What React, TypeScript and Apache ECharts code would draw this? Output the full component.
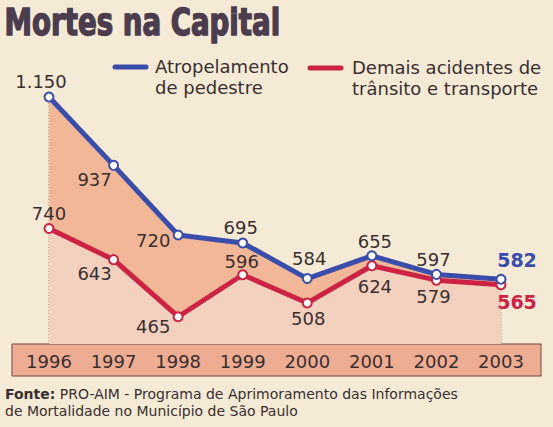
import React, { useEffect, useRef } from "react";
import * as echarts from "echarts";

const years = ["1996", "1997", "1998", "1999", "2000", "2001", "2002", "2003"];
const pedestre = [1150, 937, 720, 695, 584, 655, 597, 582];
const demais = [740, 643, 465, 596, 508, 624, 579, 565];

// label placement (text centre relative to point, px)
const pedestreOffsets = [[-8, -16], [-19, 14], [-25, 6], [-2, -15], [2, -20], [3, -14], [-3, -15], [16, -19]];
const demaisOffsets = [[0, -15], [-19, 14], [-25, 10], [-1, -13], [1, 16], [3, 21], [-3, 16], [16, 17]];

const Y_MIN = 380;
const Y_MAX = 1200;

const BLUE = "#3b4dab";
const RED = "#cc2244";
const TEXT = "#3a2f30";
const FONT = "DejaVu Sans";

function fmt(v: number): string {
  const s = String(v);
  return s.length > 3 ? s.slice(0, s.length - 3) + "." + s.slice(-3) : s;
}

function buildData(values: number[], offsets: number[][], color: string) {
  return values.map((v, i) => {
    const last = i === values.length - 1;
    return {
      value: v,
      label: {
        show: true,
        position: "inside",
        offset: offsets[i],
        align: "center",
        verticalAlign: "middle",
        formatter: fmt(v),
        fontFamily: FONT,
        fontSize: last ? 19 : 18,
        fontWeight: last ? "bold" : "normal",
        color: last ? color : TEXT,
      },
    };
  });
}

export default function App() {
  const ref = useRef<HTMLDivElement>(null);
  useEffect(() => {
    if (!ref.current) return;
    const chart = echarts.init(ref.current, undefined, { renderer: "svg" });
    chart.setOption({
      animation: false,
      backgroundColor: "#f4ead6",
      grid: { left: 49, right: 52, top: 81, bottom: 83 },
      xAxis: {
        type: "category",
        data: years,
        boundaryGap: false,
        z: 10,
        axisLine: { show: false },
        axisTick: { show: false },
        splitLine: { show: false },
        axisLabel: { margin: 8, fontFamily: FONT, fontSize: 18, color: TEXT },
      },
      yAxis: { type: "value", min: Y_MIN, max: Y_MAX, show: false },
      graphic: [
        {
          type: "rect",
          z: -10,
          shape: { x: 12, y: 344, width: 529, height: 32 },
          style: { fill: "#eeac93", stroke: "#6e4a40", lineWidth: 1 },
        },
        {
          type: "text",
          left: 4,
          top: 3,
          scaleX: 0.83,
          style: {
            text: "Mortes na Capital",
            fontFamily: "DejaVu Sans Condensed",
            fontWeight: "bold",
            fontSize: 37,
            fill: "#4b3d4e",
            stroke: "#4b3d4e",
            lineWidth: 1.4,
          },
        },
        {
          type: "line",
          shape: { x1: 115, y1: 67, x2: 146, y2: 67 },
          style: { stroke: BLUE, lineWidth: 5, lineCap: "round" },
        },
        {
          type: "text",
          x: 155,
          y: 56,
          style: {
            text: "Atropelamento\nde pedestre",
            fontFamily: FONT,
            fontSize: 18,
            lineHeight: 21,
            fill: TEXT,
          },
        },
        {
          type: "line",
          shape: { x1: 310, y1: 68, x2: 341, y2: 68 },
          style: { stroke: RED, lineWidth: 5, lineCap: "round" },
        },
        {
          type: "text",
          x: 352,
          y: 57,
          style: {
            text: "Demais acidentes de\ntrânsito e transporte",
            fontFamily: FONT,
            fontSize: 18,
            lineHeight: 21,
            fill: TEXT,
          },
        },
        {
          type: "text",
          x: 5,
          y: 385,
          style: {
            text: "{b|Fonte:} PRO-AIM - Programa de Aprimoramento das Informações\nde Mortalidade no Município de São Paulo",
            fontFamily: FONT,
            fontSize: 14,
            lineHeight: 17,
            fill: TEXT,
            rich: {
              b: { fontFamily: FONT, fontSize: 14, fontWeight: "bold", fill: TEXT },
            },
          },
        },
      ],
      series: [
        {
          type: "line",
          data: pedestre,
          symbol: "none",
          lineStyle: { width: 0 },
          areaStyle: { color: "#f2b797", opacity: 1, origin: "start" },
          silent: true,
        },
        {
          type: "line",
          data: demais,
          symbol: "none",
          lineStyle: { width: 0 },
          areaStyle: { color: "#f4d0be", opacity: 1, origin: "start" },
          silent: true,
        },
        {
          type: "custom",
          data: pedestre.map((v, i) => [i, v]),
          renderItem: (params: any, api: any) => {
            const p = api.coord([api.value(0), api.value(1)]);
            const b = api.coord([api.value(0), Y_MIN]);
            return {
              type: "line",
              shape: { x1: p[0], y1: p[1], x2: b[0], y2: b[1] },
              style: { stroke: "#8a7468", lineWidth: 1, lineDash: [1, 2] },
            };
          },
          silent: true,
        },
        {
          type: "line",
          data: buildData(demais, demaisOffsets, RED),
          symbol: "circle",
          symbolSize: 9,
          itemStyle: { color: "#ffffff", borderColor: RED, borderWidth: 2 },
          lineStyle: { color: RED, width: 5 },
        },
        {
          type: "line",
          data: buildData(pedestre, pedestreOffsets, BLUE),
          symbol: "circle",
          symbolSize: 9,
          itemStyle: { color: "#ffffff", borderColor: BLUE, borderWidth: 2 },
          lineStyle: { color: BLUE, width: 5 },
        },
      ],
    });
    return () => chart.dispose();
  }, []);
  return <div ref={ref} style={{ width: 553, height: 427, position: "fixed", left: 0, top: 0 }} />;
}
